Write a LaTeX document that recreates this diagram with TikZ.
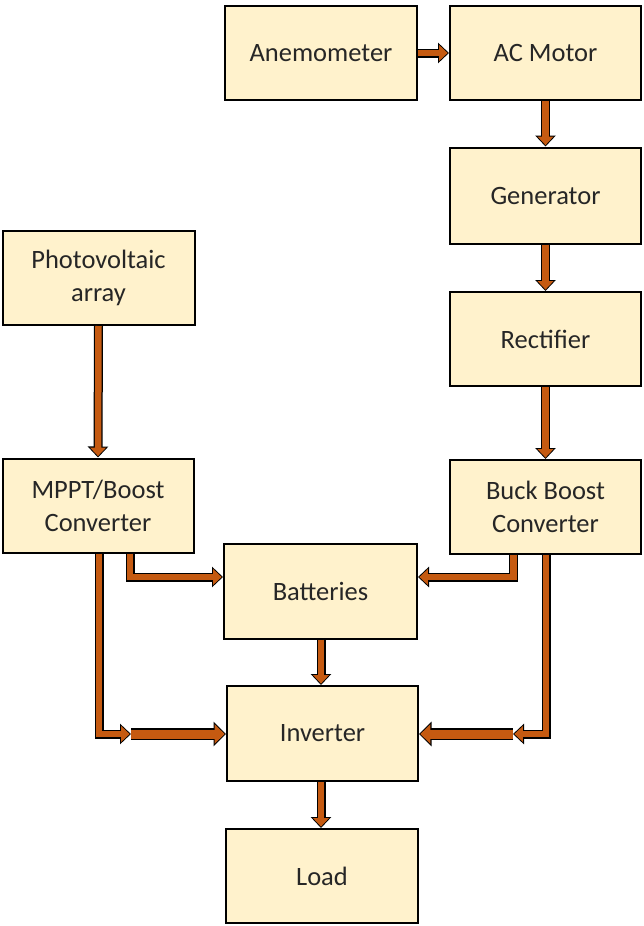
\documentclass[tikz,border=0pt]{standalone}
\usepackage{fontspec}
\setmainfont{Carlito}
\usetikzlibrary{arrows.meta}
\definecolor{boxfill}{HTML}{FFF2CC}
\definecolor{arrowc}{HTML}{C55A11}
\begin{document}
\begin{tikzpicture}[x=1pt,y=-1pt,
  blk/.style={draw=black, line width=2pt, fill=boxfill, rectangle, minimum width=191pt, minimum height=94pt, align=center, inner sep=0pt, font=\fontsize{26.5}{33}\selectfont, text=black!85},
  arr/.style={draw=arrowc, line width=6.5pt, line join=miter, shorten >=1.4pt, -{Triangle[length=8.5pt,width=15.5pt]},
    preaction={draw=black, line width=9pt, shorten >=0pt, -{Triangle[length=11pt,width=20pt]}}},
  bigarr/.style={draw=arrowc, line width=9pt, shorten >=1.4pt, -{Triangle[length=10pt,width=19pt]},
    preaction={draw=black, line width=11.5pt, shorten >=0pt, -{Triangle[length=12.5pt,width=24pt]}}}
]
\useasboundingbox (0,0) rectangle (643,926);
\node[blk, minimum width=192pt] (anem) at (321,53) {Anemometer};
\node[blk] (acm) at (545.5,53) {AC Motor};
\node[blk, minimum height=96pt] (gen) at (545.5,195.5) {Generator};
\node[blk] (rect) at (545.5,339) {Rectifier};
\node[blk] (buck) at (545.5,507) {Buck Boost\\Converter};
\node[blk, minimum width=192pt] (pv) at (98.5,278) {Photovoltaic\\array};
\node[blk] (mppt) at (98,505.5) {MPPT/Boost\\Converter};
\node[blk, minimum width=193pt, minimum height=95pt] (bat) at (320.5,591) {Batteries};
\node[blk, minimum height=95pt] (inv) at (322.5,733.5) {Inverter};
\node[blk, minimum width=192pt] (load) at (322,876) {Load};

\coordinate (lj) at (131,734);
\coordinate (rj) at (513,734);

\draw[arr] (anem.east) -- (acm.west);
\draw[arr] (acm.south) -- (gen.north);
\draw[arr] (gen.south) -- (rect.north);
\draw[arr] (rect.south) -- (buck.north);
\draw[arr] (pv.south) -- (mppt.north);
\draw[arr] (mppt.south -| 130,0) |- (bat.west |- 0,577);
\draw[arr] (buck.south -| 513.5,0) |- (bat.east |- 0,577);
\draw[arr] (bat.south -| 321,0) -- (inv.north -| 321,0);
\draw[arr] (inv.south -| 321,0) -- (load.north -| 321,0);
\draw[arr] (mppt.south -| 99,0) |- (lj);
\draw[arr] (buck.south -| 546,0) |- (rj);
\draw[bigarr] (lj) -- (inv.west |- lj);
\draw[bigarr] (rj) -- (inv.east |- rj);
\end{tikzpicture}
\end{document}
